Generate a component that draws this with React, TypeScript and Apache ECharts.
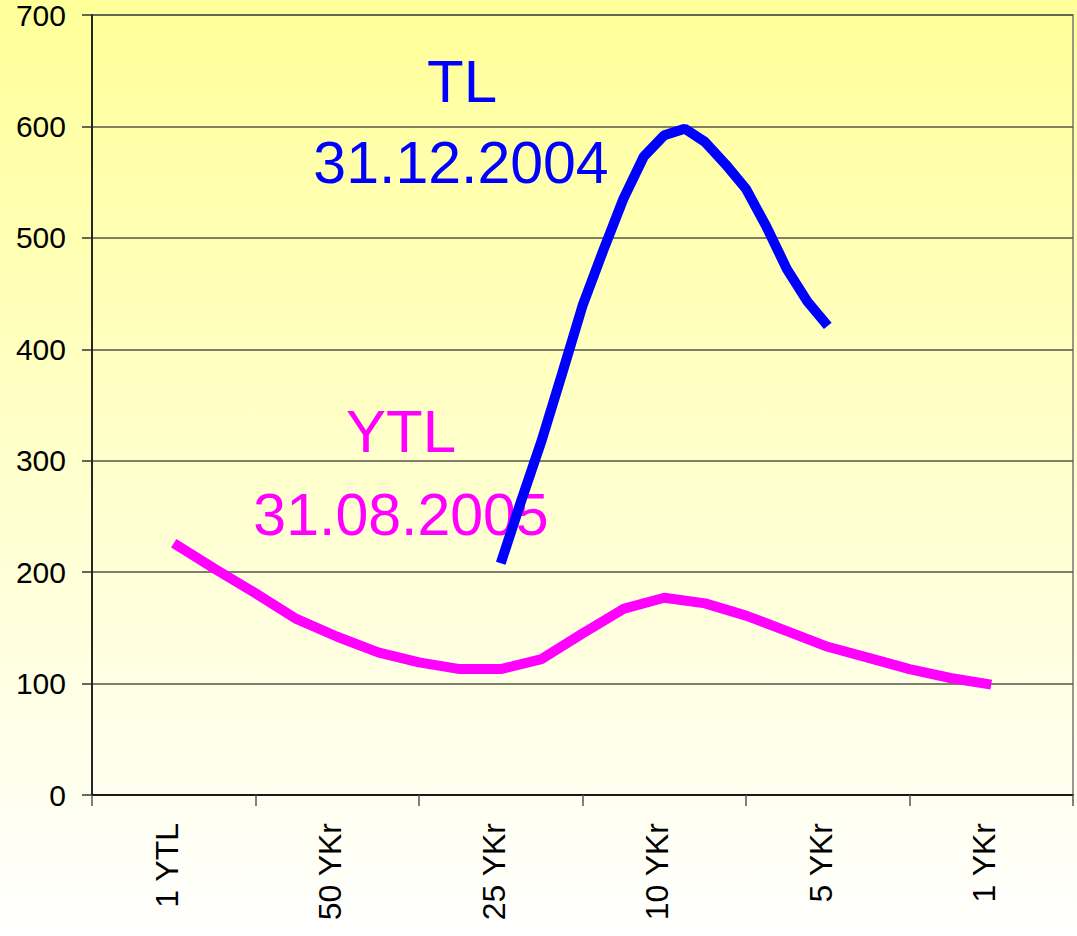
import React, { useEffect, useRef } from "react";
import * as echarts from "echarts";

const categories = ["1 YTL", "50 YKr", "25 YKr", "10 YKr", "5 YKr", "1 YKr"];

// YTL (31.08.2005) – positions along the category scale (category i centre = i + 0.5)
const ytlX = [0.5, 0.75, 1, 1.25, 1.5, 1.75, 2, 2.25, 2.5, 2.75, 3, 3.25, 3.5, 3.75, 4, 4.25, 4.5, 4.75, 5, 5.25, 5.5];
const ytlValues = [226, 203, 181, 158, 142, 128, 119, 113, 113, 122, 145, 167, 177, 172, 161, 147, 133, 123, 113, 105, 99];

// TL (31.12.2004)
const tlX = [2.5, 2.625, 2.75, 2.875, 3, 3.125, 3.25, 3.375, 3.5, 3.625, 3.75, 3.875, 4, 4.125, 4.25, 4.375, 4.5];
const tlValues = [208, 264, 318, 378, 439, 488, 535, 573, 592, 598, 586, 566, 544, 510, 472, 443, 421];

const yMin = 0;
const yMax = 700;
const yStep = 100;

const FONT = "'Liberation Sans', Arial, sans-serif";

export default function App() {
  const ref = useRef<HTMLDivElement>(null);

  useEffect(() => {
    document.body.style.margin = "0";
    document.body.style.overflow = "hidden";
    if (!ref.current) return;
    const chart = echarts.init(ref.current, undefined, { renderer: "svg" });

    const ytlData = ytlX.map((x, i) => [x, ytlValues[i]]);
    const tlData = tlX.map((x, i) => [x, tlValues[i]]);

    chart.setOption({
      animation: false,
      backgroundColor: new echarts.graphic.LinearGradient(0, 0, 0, 1, [
        { offset: 0, color: "#FFFF99" },
        { offset: 1, color: "#FFFFFF" },
      ]),
      grid: {
        left: 92,
        right: 4,
        top: 14,
        bottom: 141,
        show: true,
        borderColor: "#777777",
        borderWidth: 1.5,
        backgroundColor: "transparent",
      },
      xAxis: [
        {
          type: "category",
          data: categories,
          boundaryGap: true,
          axisLine: { show: true, lineStyle: { color: "#000000", width: 1.5 } },
          axisTick: { show: true, length: 11, alignWithLabel: false, lineStyle: { color: "#555555", width: 1.5 } },
          axisLabel: {
            rotate: 90,
            margin: 28,
            color: "#000000",
            fontSize: 32,
            fontFamily: FONT,
            interval: 0,
            verticalAlign: "bottom",
            lineHeight: 14,
          },
          splitLine: { show: false },
        },
        {
          type: "value",
          min: 0,
          max: categories.length,
          show: false,
          position: "bottom",
        },
      ],
      yAxis: {
        type: "value",
        min: yMin,
        max: yMax,
        interval: yStep,
        axisLine: { show: true, lineStyle: { color: "#000000", width: 1.5 } },
        axisTick: { show: true, length: 10, lineStyle: { color: "#333333", width: 1.5 } },
        axisLabel: {
          margin: 26,
          color: "#000000",
          fontSize: 30,
          fontFamily: FONT,
        },
        splitLine: { show: true, lineStyle: { color: "#55554a", width: 1.5 } },
      },
      series: [
        {
          name: "TL 31.12.2004",
          type: "line",
          xAxisIndex: 1,
          data: tlData,
          showSymbol: false,
          symbol: "none",
          smooth: false,
          lineStyle: { color: "#0000FF", width: 10 },
          z: 3,
        },
        {
          name: "YTL 31.08.2005",
          type: "line",
          xAxisIndex: 1,
          data: ytlData,
          showSymbol: false,
          symbol: "none",
          smooth: false,
          lineStyle: { color: "#FF00FF", width: 10 },
          z: 3,
        },
      ],
      graphic: [
        {
          type: "text",
          x: 462,
          y: 81,
          z: 1,
          style: { text: "TL", fill: "#0000FF", fontSize: 60, fontFamily: FONT, align: "center", verticalAlign: "middle" },
        },
        {
          type: "text",
          x: 461,
          y: 163,
          z: 1,
          style: { text: "31.12.2004", fill: "#0000FF", fontSize: 59, fontFamily: FONT, align: "center", verticalAlign: "middle" },
        },
        {
          type: "text",
          x: 401,
          y: 431,
          z: 1,
          style: { text: "YTL", fill: "#FF00FF", fontSize: 60, fontFamily: FONT, align: "center", verticalAlign: "middle" },
        },
        {
          type: "text",
          x: 401,
          y: 515,
          z: 1,
          style: { text: "31.08.2005", fill: "#FF00FF", fontSize: 59, fontFamily: FONT, align: "center", verticalAlign: "middle" },
        },
      ],
    });

    return () => {
      chart.dispose();
    };
  }, []);

  return <div ref={ref} style={{ width: 1077, height: 936 }} />;
}
